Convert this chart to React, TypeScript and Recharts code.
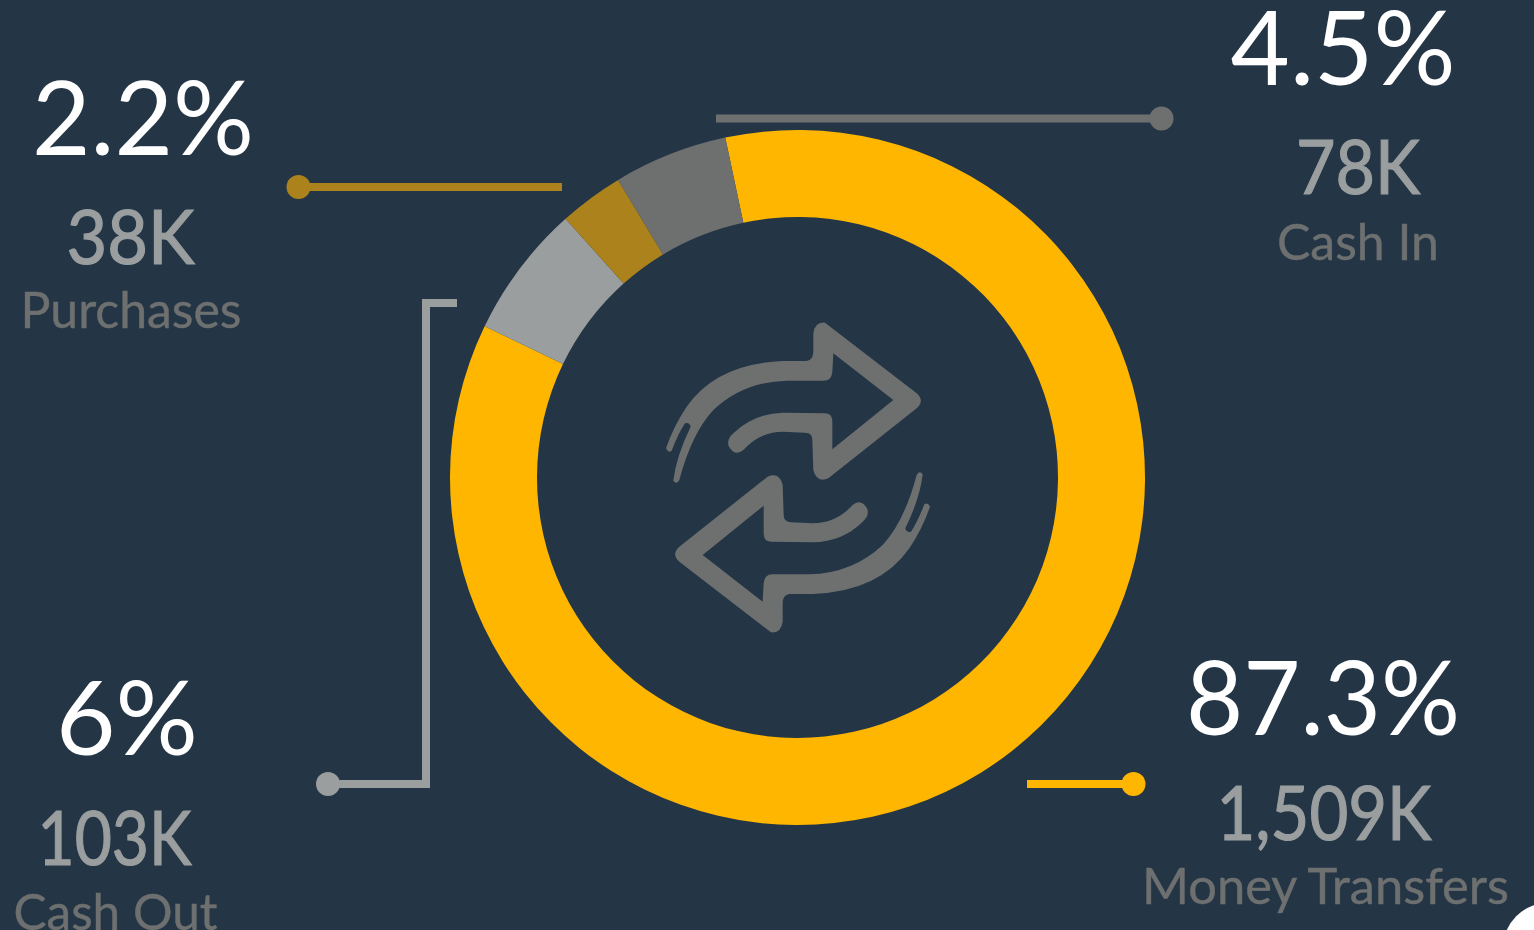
import React from 'react';
import { PieChart, Pie } from 'recharts';

const categories = ['Money Transfers', 'Cash Out', 'Purchases', 'Cash In'];
const shares = [85.5, 6.2, 3.0, 5.3];
const sliceColors = ['#FFB600', '#9A9E9F', '#AC821C', '#6E7070'];
const percentLabels = ['87.3%', '6%', '2.2%', '4.5%'];
const amountLabels = ['1,509K', '103K', '38K', '78K'];

const BG = '#243646';
const FONT = 'Lato, sans-serif';
const pieData = categories.map((name, i) => ({ name, value: shares[i], fill: sliceColors[i] }));

const layout = [
  { pct: [1323, 735], amt: [1324, 840], cat: [1325.5, 904], pctW: 274, amtW: 215, catW: 367 },
  { pct: [127, 755], amt: [114.5, 865], cat: [115.5, 930], pctW: 142, amtW: 154, catW: 204 },
  { pct: [143, 155], amt: [130.5, 264], cat: [131, 328], pctW: 222, amtW: 128, catW: 221 },
  { pct: [1343, 85], amt: [1358, 194], cat: [1358, 260], pctW: 225, amtW: 124, catW: 162 },
];

const arrowPath =
  'M88 510 Q80 525 70 512 Q78 440 122 350 Q118 335 105 340 Q85 370 65 422 Q55 430 48 415 ' +
  'Q70 350 110 290 Q200 160 400 153 L470 153 Q490 150 490 125 L490 70 Q495 35 525 38 ' +
  'L800 250 Q825 272 800 295 L535 505 Q500 520 490 480 L487 390 Q487 368 465 368 L400 365 ' +
  'Q330 365 280 420 Q255 440 237 410 Q228 390 250 370 Q310 310 400 308 L525 310 Q547 310 547 335 ' +
  'L547 418 L730 270 L550 130 L547 185 Q545 212 520 212 L410 212 Q280 215 190 300 Q125 370 88 510 Z';

export default function App() {
  return (
    <div style={{ position: 'absolute', left: 0, top: 0, width: 1534, height: 930, background: BG, overflow: 'hidden' }}>
      <PieChart width={1534} height={930} margin={{ top: 0, right: 0, bottom: 0, left: 0 }}>
        <Pie
          data={pieData}
          dataKey="value"
          nameKey="name"
          cx={797.5}
          cy={477.5}
          outerRadius={347.5}
          innerRadius={260.5}
          startAngle={102}
          endAngle={-258}
          stroke="none"
          isAnimationActive={false}
        />
        <g transform="translate(650 310) scale(0.33333)" fill="#6E7070">
          <path d={arrowPath} />
          <path d={arrowPath} transform="rotate(180 444 502.5)" />
        </g>
        <g fill="none" strokeWidth={8}>
          <path d="M716 118.5 H1161" stroke="#6E7070" />
          <path d="M298 187 H562" stroke="#AC821C" />
          <path d="M328 784 H426 V303 H457" stroke="#9A9E9F" />
          <path d="M1027 784 H1133" stroke="#FFB600" />
        </g>
        <circle cx={1161.5} cy={118.5} r={12} fill="#6E7070" />
        <circle cx={298.5} cy={187} r={12} fill="#AC821C" />
        <circle cx={328} cy={784} r={12} fill="#9A9E9F" />
        <circle cx={1133.5} cy={784} r={12} fill="#FFB600" />
        <circle cx={1548} cy={948} r={45} fill="#FFFFFF" />
        {categories.map((name, i) => (
          <g key={name} fontFamily={FONT} textAnchor="middle">
            <text x={layout[i].pct[0]} y={layout[i].pct[1]} fontSize={102} fontWeight={400} fill="#FFFFFF" textLength={layout[i].pctW} lengthAdjust="spacingAndGlyphs">{percentLabels[i]}</text>
            <text x={layout[i].amt[0]} y={layout[i].amt[1]} fontSize={75} fontWeight={400} fill="#9A9E9F" stroke="#9A9E9F" strokeWidth={1.2} textLength={layout[i].amtW} lengthAdjust="spacingAndGlyphs">{amountLabels[i]}</text>
            <text x={layout[i].cat[0]} y={layout[i].cat[1]} fontSize={50} fontWeight={400} fill="#6E7070" stroke="#6E7070" strokeWidth={0.4} textLength={layout[i].catW} lengthAdjust="spacingAndGlyphs">{name}</text>
          </g>
        ))}
      </PieChart>
    </div>
  );
}
